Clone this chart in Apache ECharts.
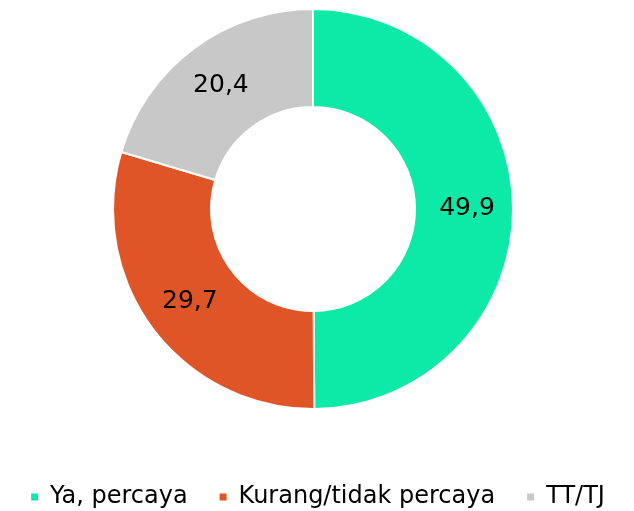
<!DOCTYPE html>
<html>
<head>
<meta charset="utf-8">
<script src="https://cdn.jsdelivr.net/npm/echarts@6/dist/echarts.min.js"></script>
<style>
  html, body { margin: 0; padding: 0; background: #fff; }
  #chart { width: 634px; height: 511px; }
</style>
</head>
<body>
<div id="chart"></div>
<script>
// data
var categories = ['Ya, percaya', 'Kurang/tidak percaya', 'TT/TJ'];
var values = [49.9, 29.7, 20.4];
var colors = ['#0DE9A6', '#E05527', '#C8C8C8'];

var myChart = echarts.init(document.getElementById('chart'));

var pieData = categories.map(function (name, i) {
  return { name: name, value: values[i], itemStyle: { color: colors[i] } };
});

myChart.setOption({
  animation: false,
  textStyle: { fontFamily: '"DejaVu Sans", sans-serif' },
  legend: {
    top: 480,
    left: 'center',
    icon: 'rect',
    itemWidth: 9,
    itemHeight: 9,
    itemGap: 30,
    textStyle: { fontSize: 24, color: '#000', padding: [0, 0, 0, 6] },
    data: categories
  },
  series: [
    {
      type: 'pie',
      center: [313, 209],
      radius: [102, 200],
      startAngle: 90,
      clockwise: true,
      itemStyle: { borderColor: '#fff', borderWidth: 2 },
      label: {
        show: true,
        position: 'inside',
        color: '#000',
        fontSize: 25,
        fontFamily: '"DejaVu Sans", sans-serif',
        formatter: function (p) { return String(p.value).replace('.', ','); }
      },
      labelLine: { show: false },
      emphasis: { disabled: true },
      data: pieData
    }
  ]
});
</script>
</body>
</html>
